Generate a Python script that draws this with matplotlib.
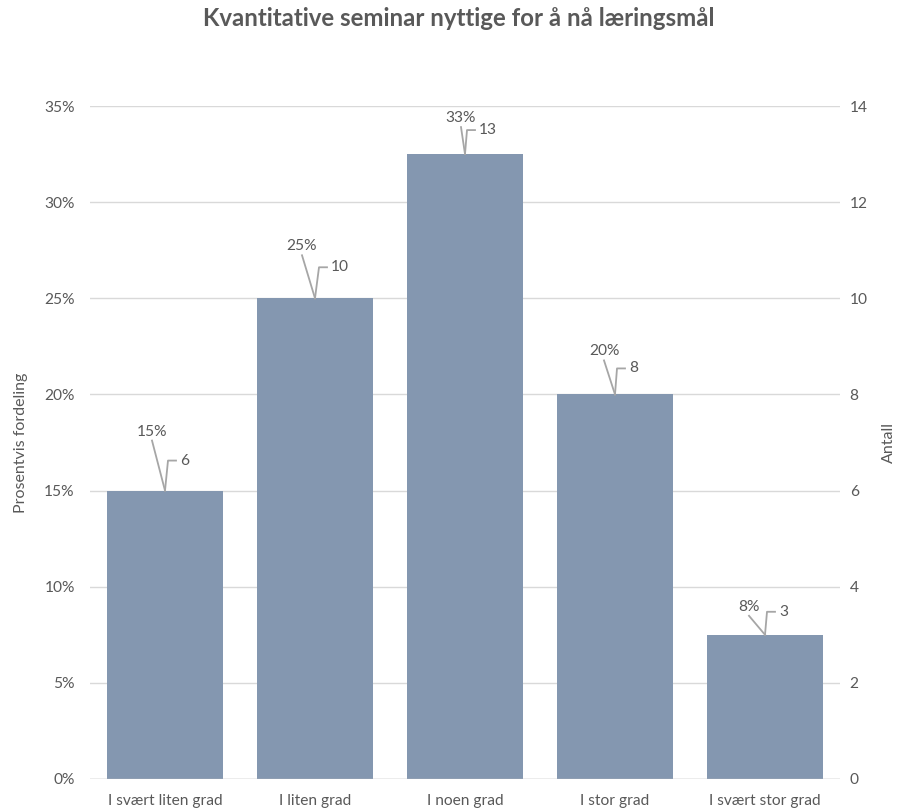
import matplotlib.pyplot as plt
import numpy as np

# data
categories = ['I svært liten grad', 'I liten grad', 'I noen grad', 'I stor grad', 'I svært stor grad']
counts = [6, 10, 13, 8, 3]
percents = [0.15, 0.25, 0.325, 0.20, 0.075]
pct_labels = ['15%', '25%', '33%', '20%', '8%']

# leader offsets in pixels (dx, dy up) for the percent labels and the count labels
pct_offsets = [(-13, 50), (-13, 43), (-4, 27), (-11, 34), (-16, 19)]
cnt_offsets = [(3, 30), (4, 31), (2, 24), (2, 26), (2, 23)]

txt = '#595959'
fs = 11.2
plt.rcParams['font.family'] = ['Lato', 'DejaVu Sans']

fig = plt.figure(figsize=(9.02, 8.11), dpi=100)
W, H = 902, 811
ax = fig.add_axes([90 / W, 32 / H, 750 / W, 673 / H])
ax2 = ax.twinx()

x = np.arange(len(categories))
ax.bar(x, percents, width=0.77, color='#8497b0', zorder=2)
ax.set_xlim(-0.5, len(categories) - 0.5)
ax.set_ylim(0, 0.35)
ax.set_yticks(np.arange(0, 0.351, 0.05))
ax.set_yticklabels(['%d%%' % round(v * 100) for v in np.arange(0, 0.351, 0.05)])
ax.yaxis.grid(True, color='#d9d9d9', lw=1, zorder=0)
ax.set_axisbelow(True)
ax.set_xticks(x)
ax.set_xticklabels(categories)
ax.tick_params(axis='y', length=0, pad=11, labelsize=fs, labelcolor=txt)
ax.tick_params(axis='x', length=0, pad=11, labelsize=fs, labelcolor=txt)
ax.axhline(0, color='#bfbfbf', lw=1, zorder=3)

ax2.set_ylim(0, 14)
ax2.set_yticks(range(0, 15, 2))
ax2.tick_params(axis='y', length=0, pad=7, labelsize=fs, labelcolor=txt)

for a in (ax, ax2):
    for s in a.spines.values():
        s.set_visible(False)

ax.set_ylabel('Prosentvis fordeling', fontsize=11.5, color=txt, labelpad=12)
ax2.set_ylabel('Antall', fontsize=11.5, color=txt, labelpad=10)
fig.text(459 / W, 1 - 19 / H, 'Kvantitative seminar nyttige for å nå læringsmål',
         ha='center', va='center', fontsize=17.3, fontweight='bold', color=txt)

# data labels with leader lines, drawn in pixel coordinates
fig.canvas.draw()
lead = '#a6a6a6'
for i in range(len(categories)):
    bx, by = ax.transData.transform((x[i], percents[i]))
    # percent label
    dx, dy = pct_offsets[i]
    fig.add_artist(plt.Line2D([bx, bx + dx], [by, by + dy], transform=None, color=lead, lw=1.3))
    fig.text((bx + dx) / W, (by + dy + 2) / H, pct_labels[i], ha='center', va='bottom',
             fontsize=fs, color=txt)
    # count label
    cx, cy = cnt_offsets[i]
    fig.add_artist(plt.Line2D([bx, bx + cx, bx + cx + 8], [by, by + cy, by + cy],
                              transform=None, color=lead, lw=1.3))
    fig.text((bx + cx + 12) / W, (by + cy) / H, str(counts[i]), ha='left', va='center',
             fontsize=fs, color=txt)

fig.savefig('out.png', dpi=100)
